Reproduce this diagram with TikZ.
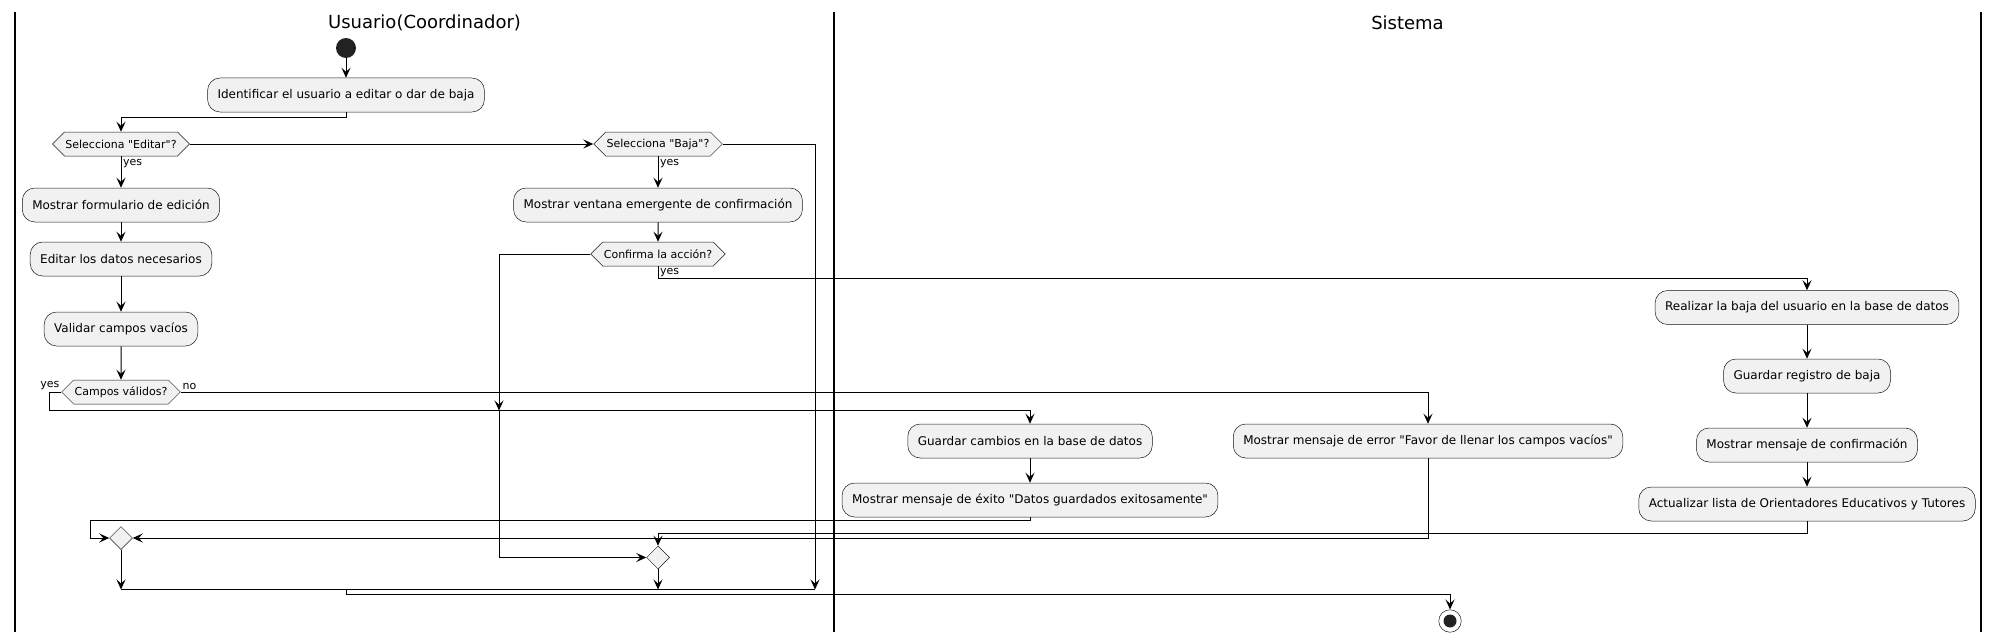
\documentclass[tikz,border=0pt]{standalone}
\usepackage{fontspec}
\setmainfont{DejaVu Sans}[Ligatures=TeXOff]
\usepackage{xcolor}
\usepackage{tikz}
\usetikzlibrary{arrows.meta,shapes.geometric,shapes.symbols}
\definecolor{actfill}{HTML}{F1F1F1}
\definecolor{actline}{HTML}{181818}
\definecolor{dotfill}{HTML}{222222}

\begin{document}
\begin{tikzpicture}[x=1pt,y=-1pt,
    act/.style={rounded corners=12.5pt, draw=actline, line width=0.5pt, fill=actfill,
      minimum height=34pt, inner xsep=10pt, inner ysep=0pt, font=\fontsize{12}{14}\selectfont},
    cond/.style={shape=signal, signal to=east and west, signal pointer angle=90,
      draw=actline, line width=0.5pt, fill=actfill, minimum height=24pt,
      inner xsep=1pt, inner ysep=0pt, font=\fontsize{11}{13}\selectfont},
    merge/.style={diamond, draw=actline, line width=0.5pt, fill=actfill,
      minimum width=23pt, minimum height=23pt, inner sep=0pt},
    flow/.style={line width=1pt, -{Stealth[length=10pt,width=9pt,inset=4pt]}},
    lane/.style={line width=1.5pt},
    guard/.style={font=\fontsize{11}{13}\selectfont, inner sep=1.5pt}]
    \useasboundingbox[fill=white] (0,0) rectangle (2000,642);

    \draw[lane] (15,12) -- (15,632);
    \draw[lane] (834,12) -- (834,632);
    \draw[lane] (1981,12) -- (1981,632);
    \node[font=\fontsize{18}{22}\selectfont] (laneuser) at (424.5,23) {Usuario(Coordinador)};
    \node[font=\fontsize{18}{22}\selectfont] (lanesys) at (1407.5,23) {Sistema};

    \node[circle, fill=dotfill, minimum size=20pt, inner sep=0pt] (start) at (346,48) {};
    \node[act] (ident) at (346,95) {Identificar el usuario a editar o dar de baja};
    \node[cond] (qedit) at (121,144) {Selecciona "Editar"?};
    \node[cond] (qbaja) at (658,144) {Selecciona "Baja"?};
    \node[act] (form) at (121,205) {Mostrar formulario de edición};
    \node[act] (ventana) at (658,205) {Mostrar ventana emergente de confirmación};
    \node[act] (editdata) at (121,259) {Editar los datos necesarios};
    \node[cond] (qconf) at (658,254) {Confirma la acción?};
    \node[act] (validar) at (121,329) {Validar campos vacíos};
    \node[cond] (qvalid) at (121,392) {Campos válidos?};
    \node[act] (guardar) at (1030,441) {Guardar cambios en la base de datos};
    \node[act] (exito) at (1030,500) {Mostrar mensaje de éxito "Datos guardados exitosamente"};
    \node[act] (error) at (1428,441) {Mostrar mensaje de error "Favor de llenar los campos vacíos"};
    \node[act] (realizar) at (1807,307.5) {Realizar la baja del usuario en la base de datos};
    \node[act] (registro) at (1807,376) {Guardar registro de baja};
    \node[act] (confmsg) at (1807,445) {Mostrar mensaje de confirmación};
    \node[act] (actualizar) at (1807,504) {Actualizar lista de Orientadores Educativos y Tutores};
    \node[merge] (mergeA) at (121,538) {};
    \node[merge] (mergeB) at (658,557.5) {};
    \node[circle, draw=actline, line width=0.5pt, fill=white, minimum size=22.5pt, inner sep=0pt] (stop) at (1450,621) {};
    \fill[dotfill] (stop) circle (6.5pt);

    \coordinate (confbend) at (499,410.5);
    \coordinate (joinL) at (121,589.5);
    \coordinate (joinM) at (346,589.5);
    \coordinate (joinR) at (815,589.5);

    \draw[flow] (start) -- (ident);
    \draw[flow] (ident.south) -- ++(0,5) -| (qedit.north);
    \draw[flow] (qedit.east) -- (qbaja.west);
    \draw[flow] (qedit.south) -- node[guard, right, pos=0.22] {yes} (form.north);
    \draw[flow] (form) -- (editdata);
    \draw[flow] (editdata) -- (validar);
    \draw[flow] (validar) -- (qvalid);
    \draw[flow] (qbaja.south) -- node[guard, right, pos=0.22] {yes} (ventana.north);
    \draw[flow] (ventana) -- (qconf);
    \draw[flow] (qbaja.east) -| (joinR);
    \draw[flow] (qconf.west) -| (confbend);
    \draw[flow] (confbend) |- (mergeB.west);
    \draw[flow] (qconf.south) -- node[guard, right] {yes} ++(0,12) -| (realizar.north);
    \draw[flow] (qvalid.east) node[guard, anchor=south west] {no} -| (error.north);
    \draw[flow] (qvalid.west) node[guard, anchor=south east] {yes} -- ++(-12,0) -- ++(0,18.5) -| (guardar.north);
    \draw[flow] (guardar) -- (exito);
    \draw[flow] (exito.south) -- ++(0,3.5) -| ([xshift=-19pt]mergeA.west) -- (mergeA.west);
    \draw[flow] (error.south) |- (mergeA.east);
    \draw[flow] (realizar) -- (registro);
    \draw[flow] (registro) -- (confmsg);
    \draw[flow] (confmsg) -- (actualizar);
    \draw[flow] (actualizar.south) -- ++(0,12) -| (mergeB.north);
    \draw[flow] (mergeA.south) -- (joinL);
    \draw[flow] (mergeB.south) -- (mergeB |- joinL);
    \draw[line width=1pt] (joinL) -- (joinR);
    \draw[flow] (joinM) -- ++(0,5) -| (stop.north);
\end{tikzpicture}
\end{document}
